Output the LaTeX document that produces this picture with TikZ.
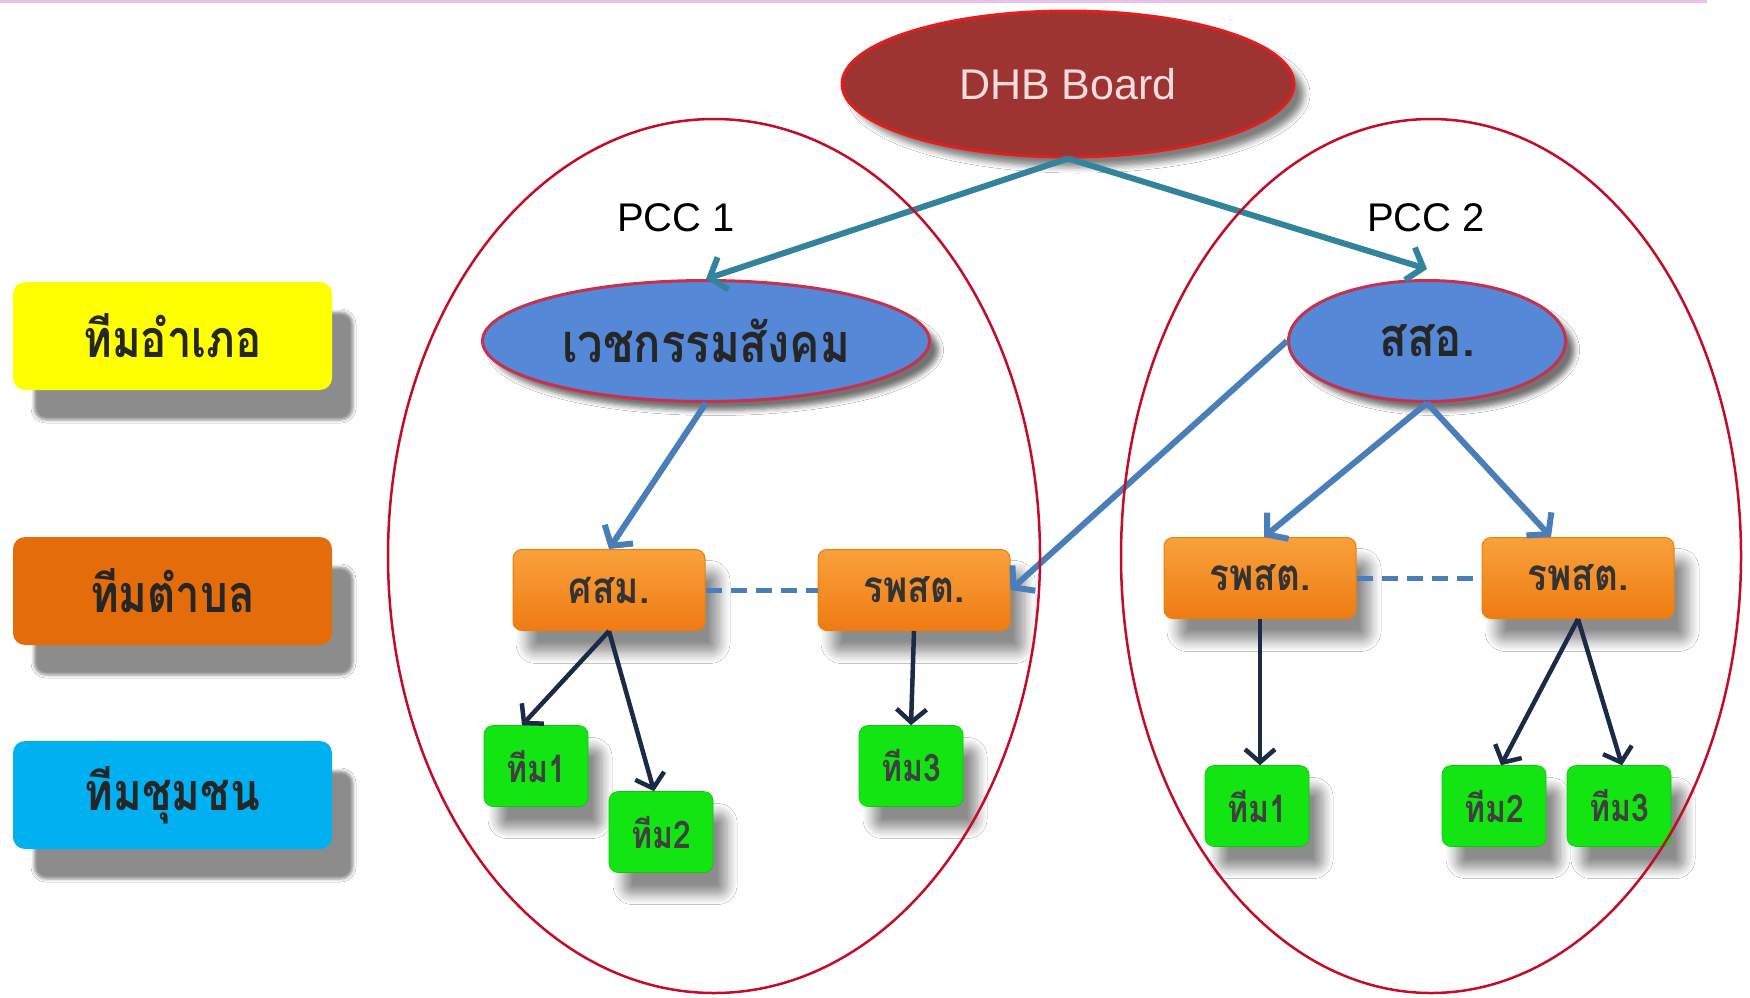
\documentclass[tikz,border=0pt]{standalone}
\usepackage{fontspec}
\setmainfont{Liberation Sans}
\newfontfamily\thai[Script=Thai, FakeStretch=0.84]{Loma}
\usetikzlibrary{arrows.meta,shapes.geometric,shadows,shadows.blur}
\definecolor{dhbfill}{HTML}{9E3432}
\definecolor{dhbline}{HTML}{E0201F}
\definecolor{dhbtext}{HTML}{F6DCDC}
\definecolor{pccline}{HTML}{C40C28}
\definecolor{bluefill}{HTML}{5588D6}
\definecolor{blueline}{HTML}{C8304C}
\definecolor{tealarrow}{HTML}{31849B}
\definecolor{bluearrow}{HTML}{4A7EBB}
\definecolor{navyarrow}{HTML}{1C2A48}
\definecolor{legyellow}{HTML}{FFFF00}
\definecolor{legorange}{HTML}{E46C0A}
\definecolor{legcyan}{HTML}{00B0F0}
\definecolor{orangetop}{HTML}{F9A13C}
\definecolor{orangebot}{HTML}{EF7B12}
\definecolor{orangeedge}{HTML}{E9800E}
\definecolor{greenbox}{HTML}{12E512}
\definecolor{topline}{HTML}{E8C2EC}
\begin{document}
\begin{tikzpicture}[x=1pt,y=-1pt,
  legendbox/.style={rectangle, rounded corners=12pt, minimum width=319pt, minimum height=108pt,
    inner sep=0pt, font=\thai\bfseries\fontsize{52}{56}\selectfont, text=black!85,
    blur shadow={shadow xshift=21pt, shadow yshift=-30pt, shadow blur radius=3pt, shadow blur steps=4, shadow opacity=45}},
  tambonbox/.style={rectangle, rounded corners=9pt, minimum width=192pt, minimum height=81pt,
    inner sep=0pt, draw=orangeedge, line width=1pt, top color=orangetop, bottom color=orangebot,
    font=\thai\bfseries\fontsize{44}{48}\selectfont, text=black!80,
    blur shadow={shadow xshift=14pt, shadow yshift=-22pt, shadow blur radius=11pt, shadow blur steps=10, shadow opacity=45}},
  teambox/.style={rectangle, rounded corners=9pt, minimum width=104pt, minimum height=81pt,
    inner sep=0pt, fill=greenbox, draw=greenbox!85!black, line width=0.6pt,
    font=\thai\bfseries\fontsize{38}{42}\selectfont, text=black!75,
    blur shadow={shadow xshift=14pt, shadow yshift=-22pt, shadow blur radius=10pt, shadow blur steps=10, shadow opacity=45}},
  blueell/.style={ellipse, inner sep=0pt, fill=bluefill, draw=blueline, line width=3pt,
    font=\thai\bfseries\fontsize{54}{58}\selectfont, text=black!85,
    blur shadow={shadow xshift=9pt, shadow yshift=-9pt, shadow blur radius=5pt, shadow blur steps=5, shadow opacity=55}},
  pccell/.style={ellipse, inner sep=0pt, draw=pccline, line width=2.5pt},
  pcclabel/.style={font=\fontsize{40}{44}\selectfont, text=black},
  tealarr/.style={draw=tealarrow, line width=6pt, -{Straight Barb[length=14pt,width=34pt]}},
  bluearr/.style={draw=bluearrow, line width=6pt, -{Straight Barb[length=14pt,width=34pt]}},
  navyarr/.style={draw=navyarrow, line width=4.5pt, -{Straight Barb[length=13pt,width=30pt]}},
  linkdash/.style={draw=bluearrow, line width=5pt, dash pattern=on 16pt off 9pt}
]
\useasboundingbox (0,0) rectangle (1750,997);
\fill[white] (0,0) rectangle (1750,997);
\draw[topline, line width=3pt] (0,1.5) -- (1707,1.5);

% legend
\node[legendbox, fill=legyellow] (lgA) at (172.5,336) {ทีมอำเภอ};
\node[legendbox, fill=legorange] (lgB) at (172.5,591) {ทีมตำบล};
\node[legendbox, fill=legcyan]   (lgC) at (172.5,795) {ทีมชุมชน};

% top
\node[ellipse, inner sep=0pt, minimum width=452pt, minimum height=146pt, fill=dhbfill, draw=dhbline, line width=3pt,
  font=\fontsize{43}{48}\selectfont, text=dhbtext,
  blur shadow={shadow xshift=10pt, shadow yshift=-10pt, shadow blur radius=6pt, shadow blur steps=5, shadow opacity=50}]
  (dhb) at (1068,84) {DHB Board};

\node[pcclabel] (lab1) at (676,218) {PCC 1};
\node[pcclabel] (lab2) at (1426,218) {PCC 2};

% district level
\node[blueell, minimum width=447pt, minimum height=121pt] (vech) at (706,341) {เวชกรรมสังคม};
\node[blueell, minimum width=277pt, minimum height=121pt] (ssa) at (1427,341) {สสอ.};

% tambon level
\node[tambonbox] (sm)  at (609,590)  {ศสม.};
\node[tambonbox] (rp1) at (914,590)  {รพสต.};
\node[tambonbox] (rp2) at (1260,578) {รพสต.};
\node[tambonbox] (rp3) at (1578,578) {รพสต.};

% teams
\node[teambox] (ta1) at (536,766)  {ทีม1};
\node[teambox] (ta2) at (661,832)  {ทีม2};
\node[teambox] (ta3) at (911,766)  {ทีม3};
\node[teambox] (tb1) at (1257,806) {ทีม1};
\node[teambox] (tb2) at (1494,806) {ทีม2};
\node[teambox] (tb3) at (1619,806) {ทีม3};

% connectors
\draw[tealarr] (dhb.south) -- (vech.north);
\draw[tealarr] (dhb.south) -- ([yshift=10pt]ssa.north);
\draw[bluearr] (vech.south) -- (sm.north);
\draw[bluearr] (ssa.west) -- (rp1.east);
\draw[bluearr] (ssa.south) -- ([xshift=4pt]rp2.north);
\draw[bluearr] (ssa.south) -- ([xshift=-27pt]rp3.north);
\draw[linkdash] (sm.east) -- (rp1.west);
\draw[linkdash] (rp2.east) -- (rp3.west);
\draw[navyarr] (sm.south) -- ([xshift=-14pt]ta1.north);
\draw[navyarr] (sm.south) -- ([xshift=-7pt]ta2.north);
\draw[navyarr] (rp1.south) -- (ta3.north);
\draw[navyarr] (rp2.south) -- ([xshift=3pt]tb1.north);
\draw[navyarr] (rp3.south) -- ([xshift=7pt]tb2.north);
\draw[navyarr] (rp3.south) -- ([xshift=3pt]tb3.north);

% PCC boundaries
\node[pccell, minimum width=652pt, minimum height=874pt] (pcc1) at (714,556) {};
\node[pccell, minimum width=620pt, minimum height=874pt] (pcc2) at (1431,556) {};
\end{tikzpicture}
\end{document}
